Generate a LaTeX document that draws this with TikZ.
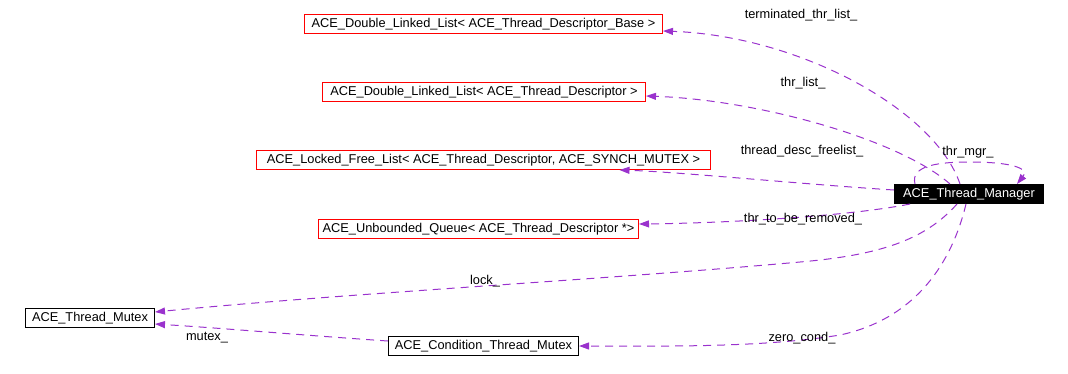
\documentclass[tikz,border=0pt]{standalone}
\usepackage{fontspec}
\setmainfont{Liberation Sans}
\usepackage{tikz}
\usetikzlibrary{arrows.meta,positioning}
\definecolor{usepurple}{RGB}{154,50,205}
\definecolor{tplred}{RGB}{255,0,0}

\begin{document}
\begin{tikzpicture}[
  x=1pt, y=-1pt,
  cls/.style={draw=black, fill=white, line width=1pt, inner sep=0pt, minimum height=19pt, font=\fontsize{12.8}{15}\selectfont},
  tpl/.style={draw=tplred, fill=white, line width=1pt, inner sep=0pt, minimum height=19pt, font=\fontsize{12.8}{15}\selectfont},
  mgr/.style={cls, draw=black, fill=black, text=white},
  use/.style={draw=usepurple, line width=1pt, dash pattern=on 8pt off 6pt, -{Triangle[length=10pt,width=7pt]}},
  lbl/.style={inner sep=0pt, font=\fontsize{12.8}{15}\selectfont}
]
  \useasboundingbox (0,0) rectangle (1068,373);

  % classes
  \node[tpl, minimum width=358pt] (dlbase) at (483.5,24) {ACE\_Double\_Linked\_List< ACE\_Thread\_Descriptor\_Base >};
  \node[tpl, minimum width=323pt] (dlist) at (484,92) {ACE\_Double\_Linked\_List< ACE\_Thread\_Descriptor >};
  \node[tpl, minimum width=454pt] (freelist) at (483.5,160) {ACE\_Locked\_Free\_List< ACE\_Thread\_Descriptor, ACE\_SYNCH\_MUTEX >};
  \node[tpl, minimum width=320pt] (queue) at (478.5,229) {ACE\_Unbounded\_Queue< ACE\_Thread\_Descriptor *>};
  \node[mgr, minimum width=149pt] (manager) at (969,194) {ACE\_Thread\_Manager};
  \node[cls, minimum width=129pt] (tmutex) at (90,318) {ACE\_Thread\_Mutex};
  \node[cls, minimum width=190pt] (condmutex) at (483.5,346) {ACE\_Condition\_Thread\_Mutex};

  % member relations
  \draw[use] ([xshift=-9pt]manager.north) .. controls (935,110) and (800,36) .. ([yshift=-7pt]dlbase.east);
  \draw[use] ([xshift=-19pt]manager.north) .. controls (900,140) and (760,100) .. ([yshift=-4pt]dlist.east);
  \draw[use] ([yshift=4pt]manager.west) .. controls (800,184) and (680,172) .. ([xshift=136pt]freelist.south);
  \draw[use] ([xshift=-59pt]manager.south) .. controls (850,216) and (730,223) .. ([yshift=5pt]queue.east);
  \draw[use] ([xshift=-12pt]manager.south) .. controls (925,240) and (880,255) .. (800,262)
    .. controls (600,280) and (350,293) .. ([yshift=6pt]tmutex.east);
  \draw[use] ([xshift=-3pt]manager.south) .. controls (950,270) and (910,320) .. (840,335)
    .. controls (760,348) and (660,346) .. (condmutex.east);
  \draw[use] ([yshift=5pt]condmutex.west) .. controls (300,335) and (220,328) .. ([yshift=-6pt]tmutex.east);
  \draw[use] ([xshift=-54pt]manager.north) .. controls (910,165) and (940,162) .. (970,162)
    .. controls (1010,162) and (1030,168) .. ([xshift=48pt]manager.north);

  % member names
  \node[lbl] (lterm) at (801,15) {terminated\_thr\_list\_};
  \node[lbl] (llist) at (803,83) {thr\_list\_};
  \node[lbl] (lfree) at (802,151) {thread\_desc\_freelist\_};
  \node[lbl] (lremove) at (803,219) {thr\_to\_be\_removed\_};
  \node[lbl] (llock) at (485,281) {lock\_};
  \node[lbl] (lzero) at (802,338) {zero\_cond\_};
  \node[lbl] (lmutex) at (207,338) {mutex\_};
  \node[lbl] (lmgr) at (968,152) {thr\_mgr\_};
\end{tikzpicture}
\end{document}
